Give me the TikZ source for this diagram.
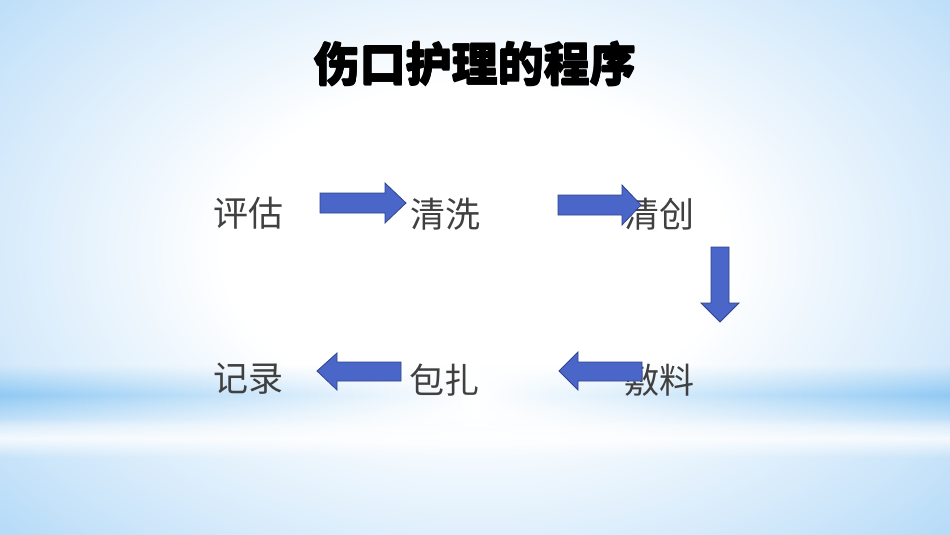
\documentclass[tikz,border=0pt]{standalone}
\usepackage{fontspec}
\newfontfamily\cjk{Noto Sans CJK SC}
\usetikzlibrary{fadings}
\definecolor{bgblue}{RGB}{145,202,244}
\definecolor{bgmid}{RGB}{205,230,250}
\definecolor{arrfill}{RGB}{74,102,200}
\definecolor{arrline}{RGB}{48,68,140}
\definecolor{txt}{RGB}{64,64,64}
\pgfdeclareradialshading{bgshade}{\pgfpoint{0bp}{0bp}}{color(0bp)=(white); color(9bp)=(white); color(19bp)=(bgmid); color(29bp)=(bgblue); color(50bp)=(bgblue)}
\tikzfading[name=vband, top color=transparent!100, bottom color=transparent!100, middle color=transparent!0]
\tikzset{
  word/.style={font=\cjk\fontsize{35}{40}\selectfont, text=txt, inner sep=0pt},
  ttl/.style={font=\cjk\bfseries\fontsize{46}{50}\selectfont, text=black, inner sep=0pt},
  blockarrow/.style={fill=arrfill, draw=arrline, line width=0.8pt, line join=miter}
}
\begin{document}
\begin{tikzpicture}[x=1pt,y=-1pt]
\useasboundingbox (0,0) rectangle (950,535);
\begin{scope}
\clip (0,0) rectangle (950,535);
\fill[bgblue] (0,0) rectangle (950,535);
\shade[shading=bgshade] (475,250) ellipse (700 and 460);
% horizontal bands
\shade[left color=bgblue, right color=bgblue, middle color=white, path fading=vband] (0,365) rectangle (950,425);
\fill[white, path fading=vband, opacity=0.8] (0,418) rectangle (950,458);
\end{scope}
% title
\foreach \dx/\dy in {0.7/0,-0.7/0,0/0.7,0/-0.7}{
  \node[ttl] at (475+\dx,64+\dy) {伤口护理的程序};
}
\node[ttl] (title) at (475,64) {伤口护理的程序};
% words
\node[word] (a) at (248,213) {评估};
\node[word] (b) at (445,214) {清洗};
\node[word] (c) at (659,214) {清创};
\node[word] (d) at (659,380) {敷料};
\node[word] (e) at (444,380) {包扎};
\node[word] (f) at (248,379) {记录};
% arrows (drawn over text)
\draw[blockarrow] (320,193) -- (385,193) -- (385,183) -- (406,203) -- (385,223) -- (385,213) -- (320,213) -- cycle;
\draw[blockarrow] (558,195) -- (622,195) -- (622,185) -- (641,205) -- (622,225) -- (622,215) -- (558,215) -- cycle;
\draw[blockarrow] (711,247) -- (729,247) -- (729,303) -- (739,303) -- (720,322) -- (701,303) -- (711,303) -- cycle;
\draw[blockarrow] (642,362) -- (578,362) -- (578,352) -- (559,371) -- (578,390) -- (578,381) -- (642,381) -- cycle;
\draw[blockarrow] (401,362) -- (337,362) -- (337,353) -- (317,371) -- (337,390) -- (337,381) -- (401,381) -- cycle;
\end{tikzpicture}
\end{document}
